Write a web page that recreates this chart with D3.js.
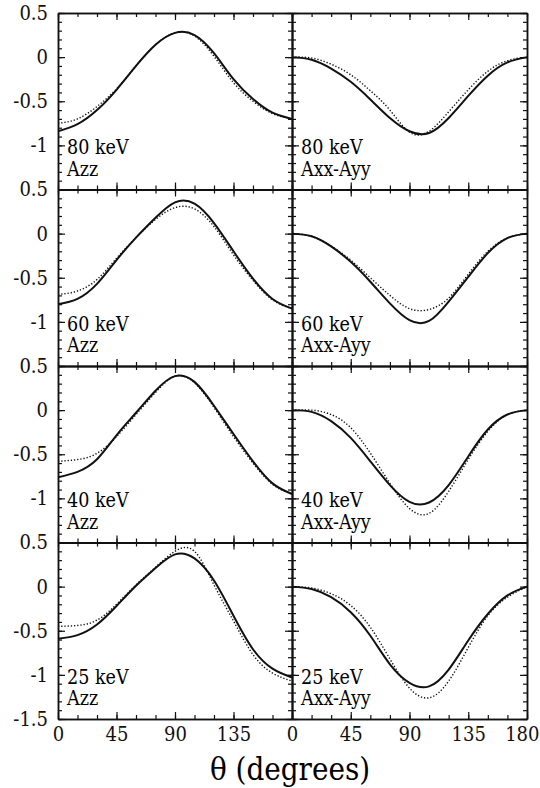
<!DOCTYPE html>
<html>
<head>
<meta charset="utf-8">
<script src="https://cdn.jsdelivr.net/npm/d3@7"></script>
<style>
  body { margin: 0; background: #fff; }
</style>
</head>
<body>
<div id="chart"></div>
<script>
const thetas = [0, 15, 30, 45, 60, 75, 90, 105, 120, 135, 150, 165, 180];
const energies = ["80 keV", "60 keV", "40 keV", "25 keV"];
const observables = ["Azz", "Axx-Ayy"];

// Azz, solid and dotted curves per energy
const azz80Solid  = [-0.84, -0.76, -0.60, -0.37, -0.10, 0.14, 0.275, 0.25, 0.045, -0.25, -0.475, -0.63, -0.70];
const azz80Dotted = [-0.75, -0.70, -0.56, -0.36, -0.10, 0.14, 0.275, 0.24, 0.01, -0.29, -0.50, -0.64, -0.70];
const azz60Solid  = [-0.80, -0.74, -0.57, -0.30, -0.045, 0.18, 0.355, 0.34, 0.12, -0.20, -0.51, -0.74, -0.85];
const azz60Dotted = [-0.69, -0.65, -0.52, -0.28, -0.045, 0.16, 0.295, 0.28, 0.08, -0.24, -0.53, -0.75, -0.85];
const azz40Solid  = [-0.76, -0.70, -0.557, -0.285, -0.03, 0.22, 0.385, 0.32, 0.05, -0.27, -0.58, -0.83, -0.95];
const azz40Dotted = [-0.58, -0.56, -0.49, -0.30, -0.05, 0.20, 0.385, 0.31, 0.03, -0.30, -0.60, -0.84, -0.95];
const azz25Solid  = [-0.59, -0.55, -0.43, -0.22, 0.01, 0.21, 0.365, 0.32, 0.07, -0.33, -0.71, -0.93, -1.03];
const azz25Dotted = [-0.45, -0.44, -0.38, -0.20, 0.02, 0.22, 0.40, 0.40, 0.02, -0.39, -0.77, -0.98, -1.07];

// Axx-Ayy, solid and dotted curves per energy
const axx80Solid  = [0, -0.03, -0.13, -0.28, -0.48, -0.69, -0.84, -0.86, -0.69, -0.44, -0.21, -0.06, 0];
const axx80Dotted = [0, -0.01, -0.08, -0.20, -0.38, -0.60, -0.85, -0.84, -0.62, -0.37, -0.16, -0.04, 0];
const axx60Solid  = [0, -0.03, -0.145, -0.32, -0.545, -0.79, -0.98, -0.99, -0.77, -0.49, -0.22, -0.05, 0];
const axx60Dotted = [0, -0.03, -0.14, -0.30, -0.50, -0.70, -0.85, -0.86, -0.73, -0.46, -0.20, -0.05, 0];
const axx40Solid  = [0, -0.02, -0.125, -0.315, -0.58, -0.85, -1.04, -1.047, -0.85, -0.525, -0.22, -0.05, 0];
const axx40Dotted = [0, 0, -0.05, -0.20, -0.487, -0.83, -1.115, -1.17, -0.92, -0.56, -0.24, -0.05, 0];
const axx25Solid  = [0, -0.028, -0.12, -0.29, -0.557, -0.88, -1.09, -1.13, -0.94, -0.61, -0.31, -0.10, 0];
const axx25Dotted = [0, -0.016, -0.08, -0.214, -0.46, -0.82, -1.15, -1.26, -1.07, -0.69, -0.33, -0.12, 0];

// tick values
const xMajor = [0, 45, 90, 135, 180];
const xMinor = [0, 15, 30, 45, 60, 75, 90, 105, 120, 135, 150, 165, 180];
const yMajor = [-1.5, -1, -0.5, 0, 0.5];
const yMinor = d3.range(-15, 6).map(d => d / 10);

const rows = [
  [azz80Solid, azz80Dotted, axx80Solid, axx80Dotted],
  [azz60Solid, azz60Dotted, axx60Solid, axx60Dotted],
  [azz40Solid, azz40Dotted, axx40Solid, axx40Dotted],
  [azz25Solid, azz25Dotted, axx25Solid, axx25Dotted]
];

var W = 540, H = 788;
var top0 = 13, rowH = 176.5;
var colX = [[58, 292], [292, 527]];
var serif = "'DejaVu Serif Condensed', 'DejaVu Serif', serif";

const svg = d3.select("#chart").append("svg")
  .attr("width", W).attr("height", H);

function ticks(g, axis, tr, values, size) {
  g.append("g").attr("transform", tr)
    .call(axis.tickValues(values).tickSize(-size).tickSizeOuter(0).tickFormat(""))
    .call(a => a.selectAll("line").attr("stroke", "#111").attr("stroke-width", 1.2))
    .call(a => a.select(".domain").attr("stroke", "#111").attr("stroke-width", 1.5));
}

function labelStyle(a, size) {
  a.select(".domain").remove();
  a.attr("font-family", serif).attr("font-size", size);
  a.selectAll("text").attr("fill", "#111");
}

rows.forEach(function(series, r) {
  var y = d3.scaleLinear().domain([-1.5, 0.5]).range([top0 + (r + 1) * rowH, top0 + r * rowH]);
  var yb = y.range()[0], yt = y.range()[1];

  for (var c = 0; c < 2; c++) {
    var x = d3.scaleLinear().domain([0, 180]).range(colX[c]);
    var g = svg.append("g");

    // frame with inward ticks on all four sides
    [[xMinor, 4], [xMajor, 7]].forEach(function(t) {
      ticks(g, d3.axisBottom(x), "translate(0," + yb + ")", t[0], t[1]);
      ticks(g, d3.axisTop(x), "translate(0," + yt + ")", t[0], t[1]);
    });
    [[yMinor, 4], [yMajor, 7]].forEach(function(t) {
      ticks(g, d3.axisLeft(y), "translate(" + x.range()[0] + ",0)", t[0], t[1]);
      ticks(g, d3.axisRight(y), "translate(" + x.range()[1] + ",0)", t[0], t[1]);
    });

    var line = d3.line()
      .x((d, i) => x(thetas[i]))
      .y(d => y(d))
      .curve(d3.curveNatural);

    g.append("path").datum(series[c * 2])
      .attr("d", line)
      .attr("fill", "none").attr("stroke", "#111").attr("stroke-width", 2);
    g.append("path").datum(series[c * 2 + 1])
      .attr("d", line)
      .attr("fill", "none").attr("stroke", "#111").attr("stroke-width", 1.4)
      .attr("stroke-dasharray", "1.3,1.9");

    // panel label
    g.append("text").attr("x", x(0) + 9).attr("y", yt + 141)
      .attr("font-family", serif).attr("font-size", 19.5).text(energies[r]);
    g.append("text").attr("x", x(0) + 9).attr("y", yt + 162.5)
      .attr("font-family", serif).attr("font-size", 19.5).text(observables[c]);

    // x labels on the bottom row only
    if (r == rows.length - 1) {
      var xl = c == 0 ? [0, 45, 90, 135] : xMajor;
      g.append("g").attr("transform", "translate(0," + yb + ")")
        .call(d3.axisBottom(x).tickValues(xl).tickSize(0).tickPadding(8).tickFormat(d => String(d)))
        .call(a => labelStyle(a, 20))
        .call(a => a.selectAll("text").filter(d => d == 180).attr("text-anchor", "end").attr("x", 12));
    }
  }

  // y labels on the left column
  var yl = r == rows.length - 1 ? [0.5, 0, -0.5, -1, -1.5] : [0.5, 0, -0.5, -1];
  svg.append("g").attr("transform", "translate(" + colX[0][0] + ",0)")
    .call(d3.axisLeft(y).tickValues(yl).tickSize(0).tickPadding(10).tickFormat(d => String(d)))
    .call(a => labelStyle(a, 20));
});

// axis title
svg.append("text")
  .attr("x", 290).attr("y", 780)
  .attr("text-anchor", "middle")
  .attr("font-family", serif).attr("font-size", 31)
  .text("θ (degrees)");
</script>
</body>
</html>
